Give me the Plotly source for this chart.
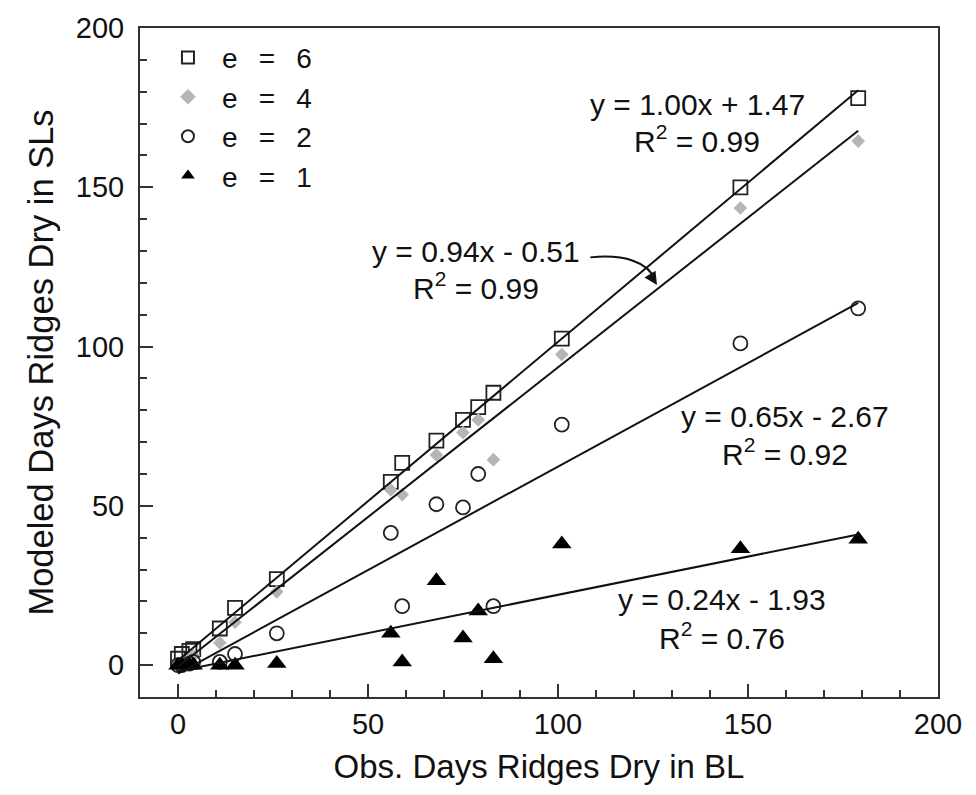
import plotly.graph_objects as go

# ---------------- data ----------------
obs_days = [0, 1, 3, 4, 11, 15, 26, 56, 59, 68, 75, 79, 83, 101, 148, 179]
e6_vals = [2, 3.5, 4.5, 5, 11.5, 18, 27, 57.5, 63.5, 70.5, 77, 81, 85.5, 102.5, 150, 178]
e4_vals = [0.5, 1, 2, 3, 7, 13.5, 23, 55, 53.5, 66, 73, 77, 64.5, 97.5, 143.5, 164.5]
e2_vals = [0, 0, 0.5, 1, 1, 3.5, 10, 41.5, 18.5, 50.5, 49.5, 60, 18.5, 75.5, 101, 112]
e1_vals = [0, 0, 0, 0, 0, 0, 0.5, 10, 1, 26.5, 8.5, 17, 2, 38, 36.5, 39.5]

series_names = ["e = 6", "e = 4", "e = 2", "e = 1"]
fit_slopes = [1.00, 0.94, 0.65, 0.24]
fit_intercepts = [1.47, -0.51, -2.67, -1.93]
fit_r2 = [0.99, 0.99, 0.92, 0.76]

x_ticks = [0, 50, 100, 150, 200]
y_ticks = [0, 50, 100, 150, 200]

FONT = "Liberation Sans, Arial, Helvetica, sans-serif"
INK = "#111111"

fig = go.Figure()

styles = [
    dict(symbol="square-open", size=14, color="#222222", line=dict(width=1.8, color="#222222")),
    dict(symbol="diamond", size=10.5, color="#b5b5b5", line=dict(width=0)),
    dict(symbol="circle-open", size=14, color="#222222", line=dict(width=1.8, color="#222222")),
    dict(symbol="triangle-up", size=17, color="#000000", line=dict(width=0)),
]
all_vals = [e6_vals, e4_vals, e2_vals, e1_vals]

SP = "\u00a0\u00a0\u2009"
for name, vals, st in zip(series_names, all_vals, styles):
    fig.add_trace(go.Scatter(
        x=obs_days, y=vals, mode="markers", name=name.replace(" = ", SP + "=" + SP),
        marker=st, showlegend=True, cliponaxis=False,
    ))

# regression lines
x0, x1 = min(obs_days), max(obs_days)
for m, b in zip(fit_slopes, fit_intercepts):
    fig.add_trace(go.Scatter(
        x=[x0, x1], y=[m * x0 + b, m * x1 + b], mode="lines",
        line=dict(color="#111111", width=2), showlegend=False, hoverinfo="skip",
    ))

def eq_text(m, b):
    sign = "+" if b >= 0 else "-"
    return f"y = {m:.2f}x {sign} {abs(b):.2f}"

# annotation anchor positions (data coords) for each equation block
label_pos = [(136.6, 176.0, 165.2), (78.3, 129.7, 119.0), (159.7, 78.0, 66.8), (143.1, 20.5, 9.2)]
annotations = []
for (m, b, r2), (lx, ly1, ly2) in zip(zip(fit_slopes, fit_intercepts, fit_r2), label_pos):
    annotations.append(dict(x=lx, y=ly1, xref="x", yref="y", text=eq_text(m, b),
                            showarrow=False, font=dict(size=30, color=INK, family=FONT)))
    annotations.append(dict(x=lx, y=ly2, xref="x", yref="y", text=f"R<sup>2</sup> = {r2:.2f}",
                            showarrow=False, font=dict(size=30, color=INK, family=FONT)))

# arrow head for the curved pointer
annotations.append(dict(x=126.05, y=119.3, xref="x", yref="y", ax=-7, ay=-11, text="",
                        showarrow=True, arrowhead=2, arrowsize=1.3, arrowwidth=2, arrowcolor="#111111"))

fig.update_layout(
    width=976, height=795,
    margin=dict(l=140, r=38, t=18, b=98),
    paper_bgcolor="white", plot_bgcolor="white",
    font=dict(family=FONT, color=INK, size=28),
    showlegend=True,
    legend=dict(x=0.0175, y=0.993, xanchor="left", yanchor="top",
                bgcolor="rgba(0,0,0,0)", borderwidth=0,
                font=dict(size=28, family=FONT, color=INK),
                itemsizing="constant", itemwidth=58, tracegroupgap=0),
    annotations=annotations,
    shapes=[dict(type="path", xref="x", yref="y",
                 path="M 108.5,128.0 C 117.6,129.1 123.7,126.4 125.5,121.1",
                 line=dict(color="#111111", width=2))],
)

fig.update_xaxes(
    range=[-10, 200], tickvals=x_ticks, ticks="inside", ticklen=13, tickwidth=2,
    tickcolor="#333333", showline=True, linecolor="#333333", linewidth=2, mirror=True,
    showgrid=False, zeroline=False, tickfont=dict(size=29, family=FONT, color=INK),
    minor=dict(dtick=10, ticks="inside", ticklen=7, tickwidth=1.5, tickcolor="#333333", showgrid=False),
    title=dict(text="Obs. Days Ridges Dry in BL", font=dict(size=33, family=FONT, color=INK), standoff=16),
)
fig.update_yaxes(
    range=[-10, 200], tickvals=y_ticks, ticks="inside", ticklen=13, tickwidth=2,
    tickcolor="#333333", showline=True, linecolor="#333333", linewidth=2, mirror=True,
    showgrid=False, zeroline=False, tickfont=dict(size=29, family=FONT, color=INK),
    ticklabelstandoff=8,
    minor=dict(dtick=10, ticks="inside", ticklen=7, tickwidth=1.5, tickcolor="#333333", showgrid=False),
    title=dict(text="Modeled Days Ridges Dry in SLs", font=dict(size=34.5, family=FONT, color=INK), standoff=12),
)

fig.write_html("out.html")
